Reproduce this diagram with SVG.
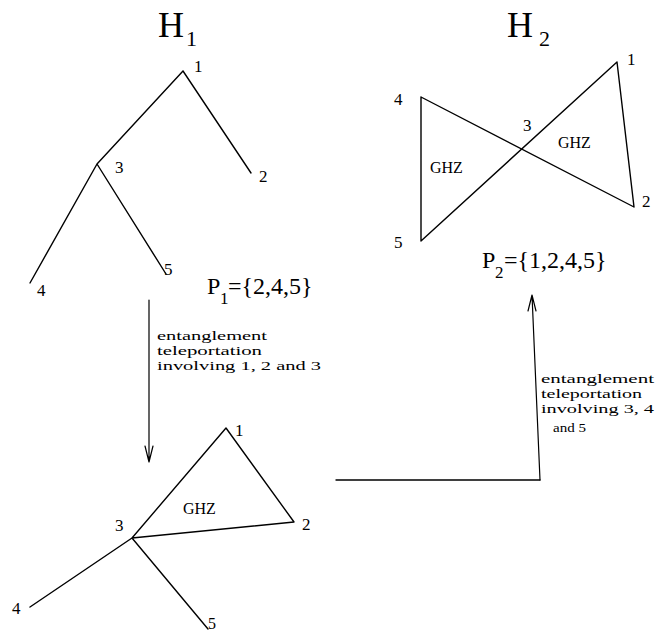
<svg xmlns="http://www.w3.org/2000/svg" width="656" height="634" viewBox="0 0 656 634">
<style>
text{font-family:"Liberation Serif","Times New Roman",serif;fill:#000}
.lbl{font-size:17px}
.ghz{font-size:16px}
.ttl{font-size:36px}
.sub{font-size:22px}
.pset{font-size:24px}
.psub{font-size:17px}
.note{font-size:13.5px}
.edge{stroke:#000;stroke-width:1.4;fill:none;stroke-linecap:round;stroke-linejoin:round}
.arr{stroke:#000;stroke-width:1.2;fill:none;stroke-linecap:round;stroke-linejoin:round}
</style>
<rect width="656" height="634" fill="#fff"/>

<!-- Titles -->
<g id="title-h1"><text class="ttl" x="158" y="37">H</text><text class="sub" x="186" y="46">1</text></g>
<g id="title-h2"><text class="ttl" x="507" y="37">H</text><text class="sub" x="539" y="46">2</text></g>

<!-- Connectors -->
<g id="connectors">
  <!-- H1 tree -->
  <path class="edge" d="M183,71 L97,164 M183,71 L251,173 M97,164 L30,283 M97,164 L166,274"/>
  <!-- H2 bow-tie -->
  <path class="edge" d="M421,97 L421,241 M421,97 L634,207 M421,241 L617,62 M617,62 L634,207"/>
  <!-- Intermediate graph -->
  <path class="edge" d="M132,538 L226,428 L294,522 Z M132,538 L30,607 M132,538 L208,629"/>
  <!-- Transition arrows -->
  <path class="arr" d="M149,300 L149,462 M145,446 L149,462 L153,446"/>
  <path class="edge" d="M336,480 L540,480"/>
  <path class="arr" d="M540,480 L532,295 M528,311 L532,295 L536,311"/>
</g>

<!-- H1 nodes -->
<g id="h1-n1"><text class="lbl" x="194" y="72">1</text></g>
<g id="h1-n2"><text class="lbl" x="259" y="182">2</text></g>
<g id="h1-n3"><text class="lbl" x="115" y="173">3</text></g>
<g id="h1-n4"><text class="lbl" x="37" y="296">4</text></g>
<g id="h1-n5"><text class="lbl" x="164" y="275">5</text></g>
<g id="p1"><text class="pset" x="207" y="294">P</text><text class="psub" x="220" y="304">1</text><text class="pset" x="228" y="294">={2,4,5}</text></g>

<!-- Intermediate nodes -->
<g id="m-n1"><text class="lbl" x="235" y="436">1</text></g>
<g id="m-n2"><text class="lbl" x="302" y="530">2</text></g>
<g id="m-n3"><text class="lbl" x="115" y="531">3</text></g>
<g id="m-n4"><text class="lbl" x="12" y="614">4</text></g>
<g id="m-n5"><text class="lbl" x="208" y="629" style="font-size:16px">5</text></g>
<g id="m-ghz"><text class="ghz" x="183" y="514">GHZ</text></g>

<!-- H2 nodes -->
<g id="h2-n1"><text class="lbl" x="627" y="65">1</text></g>
<g id="h2-n2"><text class="lbl" x="642" y="207">2</text></g>
<g id="h2-n3"><text class="lbl" x="523" y="131">3</text></g>
<g id="h2-n4"><text class="lbl" x="394" y="105">4</text></g>
<g id="h2-n5"><text class="lbl" x="394" y="248">5</text></g>
<g id="h2-ghz-left"><text class="ghz" x="430" y="173">GHZ</text></g>
<g id="h2-ghz-right"><text class="ghz" x="558" y="148">GHZ</text></g>
<g id="p2"><text class="pset" x="482" y="268">P</text><text class="psub" x="495" y="278">2</text><text class="pset" x="504" y="268">={1,2,4,5}</text></g>

<!-- Arrow labels -->
<g id="label-step1">
  <text class="note" x="157" y="340" textLength="110" lengthAdjust="spacingAndGlyphs">entanglement</text>
  <text class="note" x="157" y="355" textLength="105" lengthAdjust="spacingAndGlyphs">teleportation</text>
  <text class="note" x="157" y="370" textLength="164" lengthAdjust="spacingAndGlyphs">involving 1, 2 and 3</text>
</g>
<g id="label-step2">
  <text class="note" x="541" y="383" textLength="113" lengthAdjust="spacingAndGlyphs">entanglement</text>
  <text class="note" x="541" y="398" textLength="101" lengthAdjust="spacingAndGlyphs">teleportation</text>
  <text class="note" x="541" y="413" textLength="113" lengthAdjust="spacingAndGlyphs">involving 3, 4</text>
  <text class="note" x="553" y="432" textLength="33" lengthAdjust="spacingAndGlyphs">and 5</text>
</g>
</svg>
